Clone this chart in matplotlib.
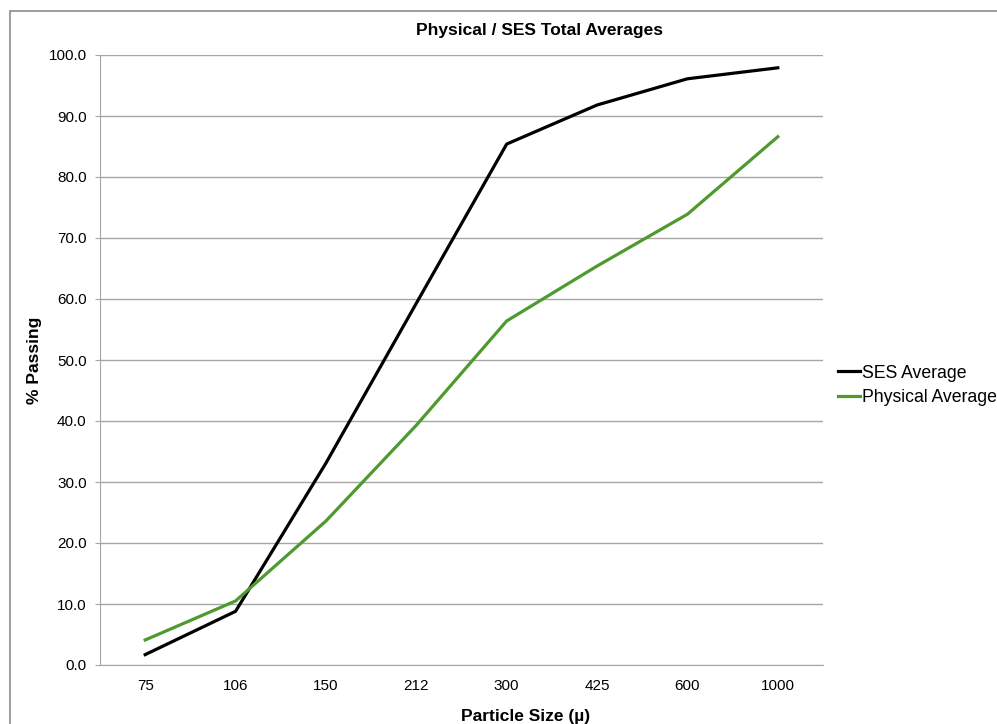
import matplotlib
matplotlib.use("Agg")
import matplotlib.pyplot as plt
from matplotlib.patches import Rectangle

categories = ["75", "106", "150", "212", "300", "425", "600", "1000"]
ses_avg = [1.7, 8.8, 33.1, 59.3, 85.4, 91.8, 96.1, 97.9]
phys_avg = [4.1, 10.5, 23.6, 39.3, 56.4, 65.4, 73.9, 86.6]

plt.rcParams['font.family'] = ['Liberation Sans', 'DejaVu Sans']

W, H = 997, 724
fig = plt.figure(figsize=(W / 100, H / 100), dpi=100)
fig.patches.append(Rectangle((10 / W, -5 / H), 1.1, (H - 11 + 5) / H, transform=fig.transFigure,
                             fill=False, edgecolor='#8c8c8c', linewidth=1.2))

ax = fig.add_axes([100 / W, (H - 665) / H, (823 - 100) / W, (665 - 55) / H])
x = list(range(len(categories)))
ax.plot(x, ses_avg, color='black', linewidth=2.3, label='SES Average')
ax.plot(x, phys_avg, color='#4e9a2f', linewidth=2.3, label='Physical Average')

ax.set_xlim(-0.5, len(categories) - 0.5)
ax.set_ylim(0, 100)
ax.set_xticks(x)
ax.set_xticklabels(categories)
ax.set_yticks(range(0, 101, 10))
ax.set_yticklabels([f"{v:.1f}" for v in range(0, 101, 10)])
ax.tick_params(axis='x', length=0, labelsize=11, pad=10)
ax.tick_params(axis='y', length=3.6, color='#a6a6a6', labelsize=11, pad=6)
ax.yaxis.grid(True, color='#a6a6a6', linewidth=1)
ax.set_axisbelow(True)
for s in ['top', 'right']:
    ax.spines[s].set_visible(False)
ax.spines['left'].set_color('#a6a6a6')
ax.spines['bottom'].set_color('#a6a6a6')

fig.text(539 / W, 1 - 31 / H, 'Physical / SES Total Averages', fontsize=12.5, fontweight='bold',
         ha='center', va='center')
fig.text(526 / W, 1 - 716 / H, 'Particle Size (\u00b5)', fontsize=12.5, fontweight='bold',
         ha='center', va='center')
fig.text(34 / W, 1 - 360 / H, '% Passing', fontsize=12.5, fontweight='bold',
         ha='center', va='center', rotation=90)

ax.legend(loc='center left', bbox_to_anchor=(838 / W, 1 - 385.5 / H), bbox_transform=fig.transFigure,
          frameon=False, fontsize=12.7, handlelength=1.25, handletextpad=0.1,
          borderaxespad=0, borderpad=0, labelspacing=0.45)

fig.savefig('out.png', dpi=100)
